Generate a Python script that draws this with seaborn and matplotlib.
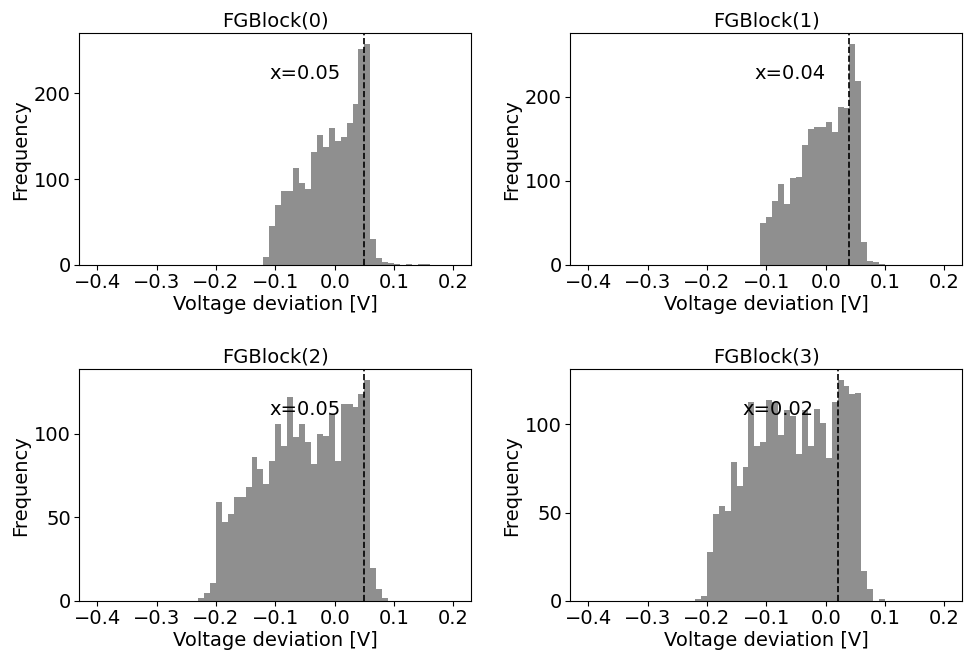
import numpy as np
import pandas as pd
import matplotlib
matplotlib.use("Agg")
import matplotlib.pyplot as plt
import seaborn as sns

# Histogram counts per FG block, 0.01 V wide bins starting at the given lower edge
block_names = ["FGBlock(0)", "FGBlock(1)", "FGBlock(2)", "FGBlock(3)"]
first_bin = [-0.12, -0.11, -0.23, -0.22]
counts_block0 = [9, 45, 70, 86, 86, 113, 96, 88, 132, 151, 137, 160, 144, 149,
                 165, 188, 251, 257, 30, 8, 3, 2, 1, 0, 1, 0, 1, 1]
counts_block1 = [50, 57, 76, 96, 72, 103, 105, 142, 162, 164, 164, 170, 158,
                 188, 186, 262, 219, 27, 5, 3, 1]
counts_block2 = [2, 5, 11, 59, 47, 52, 62, 62, 68, 86, 79, 70, 84, 106, 93, 122,
                 98, 106, 95, 82, 100, 99, 112, 84, 118, 118, 116, 124, 132, 20, 7, 2]
counts_block3 = [1, 3, 28, 49, 54, 51, 79, 65, 76, 113, 88, 90, 114, 113, 94, 108,
                 105, 83, 108, 88, 109, 101, 81, 113, 125, 122, 117, 118, 17, 7, 0, 1]
thresholds = [0.05, 0.04, 0.05, 0.02]
bin_width = 0.01
bin_range = (-0.4, 0.2)
x_ticks = [-0.4, -0.3, -0.2, -0.1, 0.0, 0.1, 0.2]
y_ticks = [[0, 100, 200], [0, 100, 200], [0, 50, 100], [0, 50, 100]]

all_counts = [counts_block0, counts_block1, counts_block2, counts_block3]

sns.set_style("ticks")
plt.rcParams["font.family"] = ["DejaVu Sans"]
plt.rcParams["text.color"] = "black"
plt.rcParams["axes.labelcolor"] = "black"
plt.rcParams["axes.edgecolor"] = "black"
plt.rcParams["axes.linewidth"] = 0.8
plt.rcParams["xtick.major.width"] = 0.8
plt.rcParams["ytick.major.width"] = 0.8
plt.rcParams["xtick.major.size"] = 3.5
plt.rcParams["ytick.major.size"] = 3.5
plt.rcParams["xtick.color"] = "black"
plt.rcParams["ytick.color"] = "black"

FS = 14

fig = plt.figure(figsize=(9.65, 6.57), dpi=100)
W, H = 965, 657
lefts = [79.3, 570.3, 79.3, 570.3]
tops = [33.3, 33.3, 369.3, 369.3]
ax_w, ax_h = 392, 231.7

for i in range(4):
    ax = fig.add_axes([lefts[i] / W, 1 - (tops[i] + ax_h) / H, ax_w / W, ax_h / H])
    counts = np.array(all_counts[i], dtype=float)
    centers = first_bin[i] + bin_width * (np.arange(len(counts)) + 0.5)
    df = pd.DataFrame({"deviation": centers, "count": counts})
    sns.histplot(data=df, x="deviation", weights="count",
                 binwidth=bin_width, binrange=bin_range, ax=ax,
                 color="#8f8f8f", alpha=1.0, edgecolor="none", linewidth=0)
    ax.axvline(thresholds[i], color="black", linestyle="--", linewidth=1.2)
    ymax = counts.max()
    ax.set_xlim(-0.43, 0.23)
    ax.set_ylim(0, ymax * 1.05)
    ax.text(thresholds[i] - 0.16, ymax * 0.87, f"x={thresholds[i]:.2f}",
            fontsize=FS, va="center", ha="left")
    ax.set_title(block_names[i], fontsize=FS, pad=5)
    ax.set_xlabel("Voltage deviation [V]", fontsize=FS, labelpad=2)
    ax.set_ylabel("Frequency", fontsize=FS, labelpad=3)
    ax.set_xticks(x_ticks)
    ax.set_yticks(y_ticks[i])
    ax.tick_params(labelsize=FS, direction="out", pad=2.5)
    for s in ax.spines.values():
        s.set_visible(True)

fig.savefig("out.png", dpi=100)
